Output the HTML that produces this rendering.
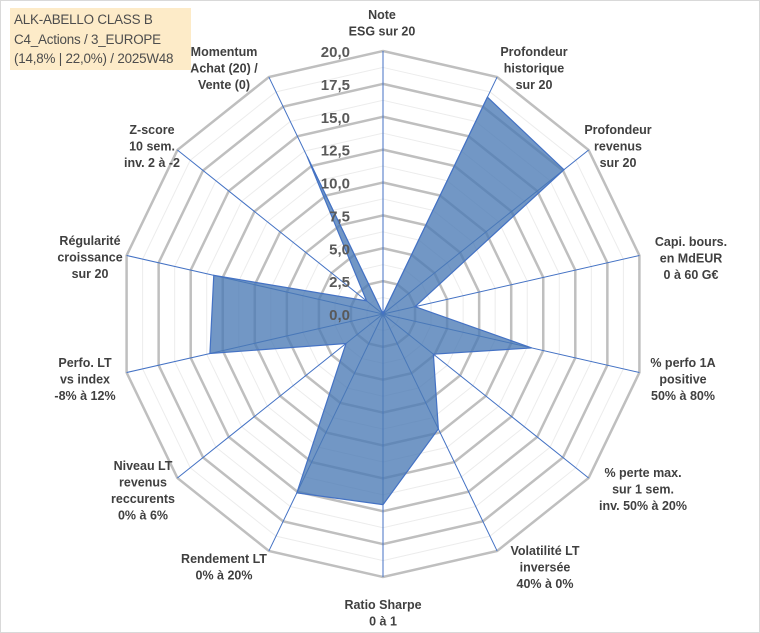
<!DOCTYPE html>
<html><head><meta charset="utf-8">
<style>
html,body{margin:0;padding:0;background:#fff;}
#wrap{position:relative;width:760px;height:633px;overflow:hidden;font-family:"Liberation Sans",Arial,sans-serif;}
svg{position:absolute;left:0;top:0;}
.title{position:absolute;left:10px;top:8px;width:181px;height:62px;background:#fdebc8;color:#4d4d4d;font-size:13.4px;line-height:19.5px;padding:2px 0 0 4px;box-sizing:border-box;white-space:nowrap;overflow:hidden;letter-spacing:-0.2px;font-family:"Liberation Sans",Arial,sans-serif;z-index:2;}
</style></head><body>
<div id="wrap">
<div class="title">ALK-ABELLO CLASS B<br>C4_Actions / 3_EUROPE<br>(14,8% | 22,0%) / 2025W48</div>
<svg id="chart" width="760" height="633"></svg>
</div>
<script>
const categories = [
 ["Note","ESG sur 20"],
 ["Profondeur","historique","sur 20"],
 ["Profondeur","revenus","sur 20"],
 ["Capi. bours.","en MdEUR","0 à 60 G€"],
 ["% perfo 1A","positive","50% à 80%"],
 ["% perte max.","sur 1 sem.","inv. 50% à 20%"],
 ["Volatilité LT","inversée","40% à 0%"],
 ["Ratio Sharpe","0 à 1"],
 ["Rendement LT","0% à 20%"],
 ["Niveau LT","revenus","reccurents","0% à 6%"],
 ["Perfo. LT","vs index","-8% à 12%"],
 ["Régularité","croissance","sur 20"],
 ["Z-score","10 sem.","inv. 2 à -2"],
 ["Momentum","Achat (20) /","Vente (0)"]
];
const values = [0, 18.3, 17.6, 2.5, 11.6, 4.9, 9.7, 14.5, 15.1, 3.6, 13.5, 13.2, 1.6, 13.3];
const tickValues = [0, 2.5, 5, 7.5, 10, 12.5, 15, 17.5, 20];
const tickLabels = ["0,0","2,5","5,0","7,5","10,0","12,5","15,0","17,5","20,0"];
const labelAnchors = [[382,15],[534,52],[618,130],[691,242],[683,363],[643,473],[545,551],[383,605],[224,559],[143,466],[85,363],[90,241],[152,130],[224,52]];

const NS="http://www.w3.org/2000/svg";
const svg=document.getElementById('chart');
const cx=383, cy=314, R=263, vmax=20, N=categories.length;
function ang(i){return -Math.PI/2 + i*2*Math.PI/N;}
function pt(i,v){const r=v/vmax*R;return [cx+r*Math.cos(ang(i)), cy+r*Math.sin(ang(i))];}
function mk(tag,attrs){const e=document.createElementNS(NS,tag);for(const k in attrs)e.setAttribute(k,attrs[k]);svg.appendChild(e);return e;}

const frame=mk('rect',{x:0.5,y:0.5,width:759,height:632,fill:'none',stroke:'#d9d9d9'});



for(let v=1.25; v<vmax; v+=2.5){
  const p=[];for(let i=0;i<N;i++)p.push(pt(i,v).join(','));
  const g=mk('polygon',{points:p.join(' '),fill:'none',stroke:'#ececec','stroke-width':1});
  
  
}
tickValues.forEach(v=>{
  if(v===0)return;
  const p=[];for(let i=0;i<N;i++)p.push(pt(i,v).join(','));
  const g=mk('polygon',{points:p.join(' '),fill:'none',stroke:'#bfbfbf','stroke-width':2.5});
  
  
});
for(let i=0;i<N;i++){
  const e=pt(i,vmax);
  const a=mk('line',{x1:cx,y1:cy,x2:e[0],y2:e[1],stroke:'#4472c4','stroke-width':1});
  
  
}
const sp=values.map((v,i)=>pt(i,v).join(',')).join(' ');
const area=mk('polygon',{points:sp,fill:'#4a7ab5','fill-opacity':0.78,stroke:'#4472c4','stroke-width':1.2});


tickValues.forEach((v,k)=>{
  const t=mk('text',{x:cx-33,y:cy-v/vmax*R+6,'text-anchor':'end','font-size':15,'font-weight':'bold',fill:'#595959','font-family':'Liberation Sans, Arial, sans-serif'});
  t.textContent=tickLabels[k];
  
  
});
categories.forEach((lines,i)=>{
  const [x,y]=labelAnchors[i];
  lines.forEach((s,j)=>{
    const t=mk('text',{x:x,y:y+j*16.5+4,'text-anchor':'middle','font-size':12.5,'font-weight':'bold',fill:'#404040','font-family':'Liberation Sans, Arial, sans-serif'});
    t.textContent=s;
    
    
  });
});
</script>
</body></html>
